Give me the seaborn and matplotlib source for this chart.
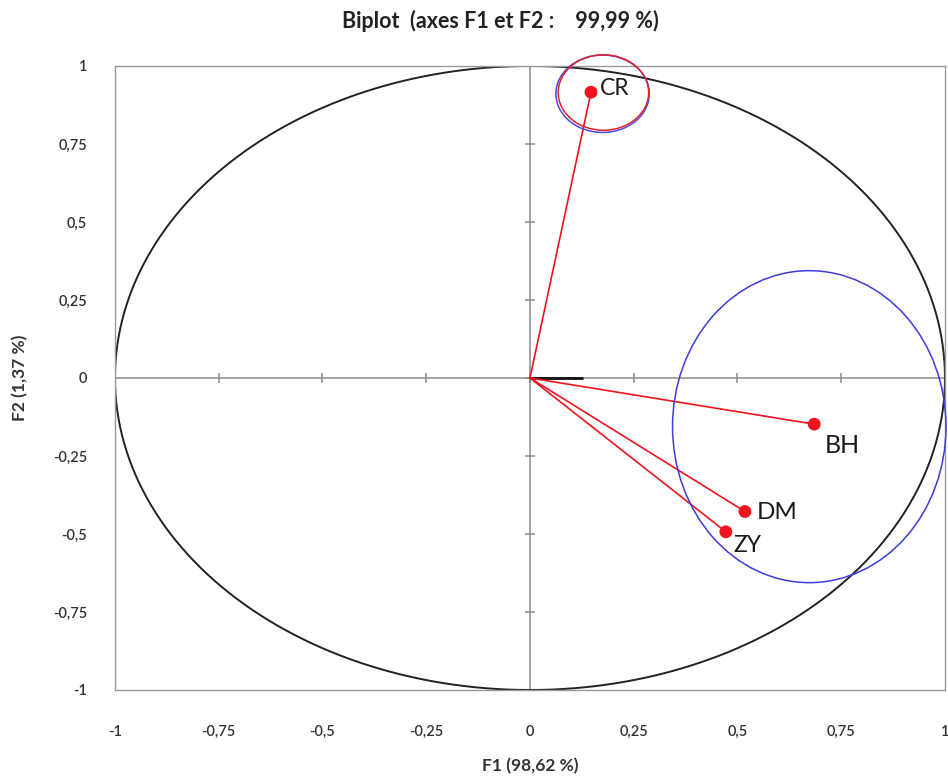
import numpy as np
import pandas as pd
import matplotlib
matplotlib.use("Agg")
import matplotlib.pyplot as plt
from matplotlib.patches import Ellipse
import seaborn as sns

# Variable loadings on F1 / F2
labels = ["CR", "BH", "DM", "ZY"]
f1 = [0.147, 0.685, 0.518, 0.472]
f2 = [0.916, -0.148, -0.428, -0.493]

# Highlight ellipses: (centre x, centre y, width, height, colour)
ell_cx = [0.175, 0.177, 0.673]
ell_cy = [0.911, 0.915, -0.156]
ell_w = [0.225, 0.218, 0.659]
ell_h = [0.248, 0.242, 1.0]
ell_col = ["#4a4ad8", "#e0202a", "#3c3cdc"]

ticks = [-1, -0.75, -0.5, -0.25, 0, 0.25, 0.5, 0.75, 1]
tick_labels = ["-1", "-0,75", "-0,5", "-0,25", "0", "0,25", "0,5", "0,75", "1"]

title = "Biplot  (axes F1 et F2 :    99,99 %)"
xlabel = "F1 (98,62 %)"
ylabel = "F2 (1,37 %)"

sns.set_theme(style="white")
plt.rcParams["font.family"] = ["Lato", "DejaVu Sans"]

df = pd.DataFrame({"F1": f1, "F2": f2, "var": labels})

fig = plt.figure(figsize=(9.48, 7.8), dpi=100)
ax = fig.add_axes([0.1213, 0.1154, 0.8755, 0.8])
ax.set_xlim(-1, 1)
ax.set_ylim(-1, 1)

# correlation circle
theta = np.linspace(0, 2 * np.pi, 721)
ax.plot(np.cos(theta), np.sin(theta), color="#222222", lw=1.4, zorder=2)

# axes through the origin with crossing tick marks
ax.axhline(0, color="#8a8a8a", lw=1.1, zorder=1)
ax.axvline(0, color="#8a8a8a", lw=1.1, zorder=1)
ax.plot(ticks, [0] * len(ticks), ls="none", marker="|", ms=7, mew=1.1,
        color="#8a8a8a", zorder=1)
ax.plot([0] * len(ticks), ticks, ls="none", marker="_", ms=7, mew=1.1,
        color="#8a8a8a", zorder=1)
ax.plot([0, 0.125], [0, 0], color="#111111", lw=2, zorder=3)

# vectors from origin
for x, y in zip(f1, f2):
    ax.plot([0, x], [0, y], color="#f0141e", lw=1.2, zorder=4)
sns.scatterplot(data=df, x="F1", y="F2", color="#f0141e", s=85,
                edgecolor="none", ax=ax, zorder=5, legend=False)
ax.set_xlabel("")
ax.set_ylabel("")

# highlight ellipses
for cx, cy, w, h, c in zip(ell_cx, ell_cy, ell_w, ell_h, ell_col):
    ax.add_patch(Ellipse((cx, cy), w, h, fill=False, ec=c, lw=1.1,
                         zorder=6, clip_on=False))

# point labels
offsets = {"CR": (0.022, 0.012, 16.5),
           "BH": (0.025, -0.068, 18),
           "DM": (0.028, -0.002, 17.5),
           "ZY": (0.018, -0.045, 16.5)}
for lab, x, y in zip(labels, f1, f2):
    dx, dy, fs = offsets[lab]
    ax.text(x + dx, y + dy, lab, ha="left", va="center", fontsize=fs,
            color="#1a1a1a", zorder=7)

ax.set_xticks(ticks)
ax.set_yticks(ticks)
ax.set_xticklabels(tick_labels)
ax.set_yticklabels(tick_labels)
ax.tick_params(axis="both", length=0, labelsize=10.5, colors="#333333")
for t in ax.get_xticklabels() + ax.get_yticklabels():
    t.set_fontweight("semibold")
ax.tick_params(axis="x", pad=25)
ax.tick_params(axis="y", pad=20)
for sp in ax.spines.values():
    sp.set_color("#999999")
    sp.set_linewidth(1.0)

fig.text(530 / 948, 1 - 766 / 780, xlabel, ha="center", va="center",
         fontsize=12.5, fontweight="bold", color="#333333")
fig.text(20 / 948, 1 - 378 / 780, ylabel, ha="center", va="center",
         rotation=90, fontsize=12.5, fontweight="bold", color="#333333")
fig.text(500 / 948, 1 - 21 / 780, title, ha="center", va="center",
         fontsize=15.5, fontweight="bold", color="#222222")

fig.savefig("out.png", dpi=100)
